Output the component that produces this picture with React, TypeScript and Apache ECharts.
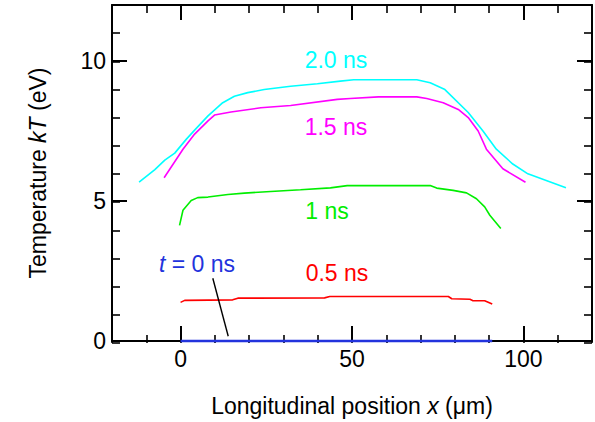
import React, { useEffect, useRef } from "react";
import * as echarts from "echarts";

// ---- data ----
const t20X = [-12.1, -7.5, -4.6, -1.7, 1.7, 4.1, 8.0, 12.3, 15.7, 19.6, 24.4, 32.1, 39.9, 46.6, 50.5, 68.9, 72.8, 77.1, 83.9, 88.2, 92.1, 96.9, 101.3, 112.4];
const t20Y = [5.67, 6.12, 6.46, 6.71, 7.21, 7.53, 8.04, 8.51, 8.74, 8.87, 8.98, 9.1, 9.19, 9.28, 9.33, 9.33, 9.22, 8.98, 8.16, 7.5, 6.85, 6.32, 5.97, 5.47];

const t15X = [-4.8, 0.7, 4.1, 8.0, 9.9, 14.7, 23.4, 32.1, 45.7, 49.5, 57.7, 68.9, 71.8, 76.6, 81.0, 83.9, 86.8, 89.2, 94.0, 100.6];
const t15Y = [5.83, 6.85, 7.39, 7.86, 8.07, 8.18, 8.33, 8.41, 8.63, 8.66, 8.72, 8.72, 8.66, 8.51, 8.27, 7.98, 7.5, 6.85, 6.15, 5.67];

const t10X = [-0.3, 0.7, 3.1, 5.0, 8.0, 13.8, 18.6, 26.3, 35.0, 43.7, 48.6, 72.8, 74.7, 79.5, 83.4, 86.3, 88.7, 90.2, 93.4];
const t10Y = [4.13, 4.67, 5.02, 5.12, 5.14, 5.23, 5.28, 5.34, 5.4, 5.47, 5.55, 5.55, 5.46, 5.38, 5.29, 5.08, 4.79, 4.49, 4.02];

const t05X = [0, 1.2, 15.2, 16.7, 42.0, 43.5, 78.1, 79.1, 84.4, 85.3, 88.7, 90.9];
const t05Y = [1.38, 1.45, 1.47, 1.53, 1.54, 1.59, 1.59, 1.51, 1.49, 1.44, 1.44, 1.32];

const t00X = [0, 90.9];
const t00Y = [0, 0];

const leaderX = [9.4, 13.9];
const leaderY = [2.24, 0.17];

const xMajorTicks = [0, 50, 100];
const yMajorTicks = [0, 5, 10];

const xTitle = "Longitudinal position {i|x} (\u03bcm)";
const yTitle = "Temperature {i|kT} (eV)";

const FONT = "'Liberation Sans', Arial, Helvetica, sans-serif";
const FS = 23;

const zip = (xs: number[], ys: number[]) => xs.map((x, i) => [x, ys[i]]);

export default function App() {
  const ref = useRef<HTMLDivElement>(null);
  useEffect(() => {
    if (!ref.current) return;
    const chart = echarts.init(ref.current, undefined, { renderer: "svg" });
    const gridBox = { left: 112, top: 5, width: 480, height: 338 };
    const axisLine = { show: true, onZero: false, lineStyle: { color: "#000", width: 2 } };
    const noLine = { show: false, onZero: false };
    const rich = { i: { fontStyle: "italic", fontSize: FS, fontFamily: FONT, color: "#000" } };
    const majorTick = (vals: number[]) => ({ show: true, inside: true, length: 15, customValues: vals, lineStyle: { color: "#000", width: 2 } });
    const minorTick = { show: true, inside: true, length: 8, lineStyle: { color: "#000", width: 1.6 } };

    const line = (xs: number[], ys: number[], color: string, width = 1.6) => ({
      type: "line",
      data: zip(xs, ys),
      xAxisIndex: 0,
      yAxisIndex: 0,
      showSymbol: false,
      symbol: "none",
      clip: false,
      lineStyle: { color, width },
      z: 5,
    });

    chart.setOption({
      animation: false,
      backgroundColor: "#fff",
      grid: [{ ...gridBox }, { ...gridBox }],
      xAxis: [
        {
          type: "value", gridIndex: 0, position: "bottom", min: -20, max: 120,
          axisLine,
          axisTick: majorTick(xMajorTicks),
          axisLabel: { customValues: xMajorTicks, margin: 6, fontSize: FS, fontFamily: FONT, color: "#000" },
          splitLine: { show: false },
          name: xTitle, nameLocation: "middle", nameGap: 53,
          nameTextStyle: { fontSize: FS, fontFamily: FONT, color: "#000", rich },
        },
        {
          type: "value", gridIndex: 0, position: "top", min: -20, max: 120,
          axisLine,
          axisTick: majorTick(xMajorTicks),
          axisLabel: { show: false },
          splitLine: { show: false },
        },
        {
          type: "value", gridIndex: 1, position: "bottom", min: -20, max: 120, interval: 10,
          axisLine: noLine, axisTick: minorTick, axisLabel: { show: false }, splitLine: { show: false },
        },
        {
          type: "value", gridIndex: 1, position: "top", min: -20, max: 120, interval: 10,
          axisLine: noLine, axisTick: minorTick, axisLabel: { show: false }, splitLine: { show: false },
        },
      ],
      yAxis: [
        {
          type: "value", gridIndex: 0, position: "left", min: 0, max: 12,
          axisLine,
          axisTick: majorTick(yMajorTicks),
          axisLabel: { customValues: yMajorTicks, margin: 6, fontSize: FS, fontFamily: FONT, color: "#000" },
          splitLine: { show: false },
          name: yTitle, nameLocation: "middle", nameGap: 63, nameRotate: 90,
          nameTextStyle: { fontSize: FS, fontFamily: FONT, color: "#000", rich },
        },
        {
          type: "value", gridIndex: 0, position: "right", min: 0, max: 12,
          axisLine,
          axisTick: majorTick(yMajorTicks),
          axisLabel: { show: false },
          splitLine: { show: false },
        },
        {
          type: "value", gridIndex: 1, position: "left", min: 0, max: 12, interval: 1,
          axisLine: noLine, axisTick: minorTick, axisLabel: { show: false }, splitLine: { show: false },
        },
        {
          type: "value", gridIndex: 1, position: "right", min: 0, max: 12, interval: 1,
          axisLine: noLine, axisTick: minorTick, axisLabel: { show: false }, splitLine: { show: false },
        },
      ],
      series: [
        line(t05X, t05Y, "#ff0000"),
        line(t10X, t10Y, "#00ee00"),
        line(t15X, t15Y, "#ff00ff"),
        line(t20X, t20Y, "#00ffff"),
        line(leaderX, leaderY, "#000000", 1.4),
        line(t00X, t00Y, "#2233dd", 2.4),
      ],
      graphic: [
        { type: "text", x: 336, y: 60, style: { text: "2.0 ns", fill: "#00ffff", font: `${FS}px ${FONT}`, align: "center", verticalAlign: "middle" } },
        { type: "text", x: 336, y: 127, style: { text: "1.5 ns", fill: "#ff00ff", font: `${FS}px ${FONT}`, align: "center", verticalAlign: "middle" } },
        { type: "text", x: 327, y: 211, style: { text: "1 ns", fill: "#00ee00", font: `${FS}px ${FONT}`, align: "center", verticalAlign: "middle" } },
        { type: "text", x: 337, y: 273, style: { text: "0.5 ns", fill: "#ff0000", font: `${FS}px ${FONT}`, align: "center", verticalAlign: "middle" } },
        {
          type: "text", x: 197, y: 264,
          style: {
            text: "{i|t} = 0 ns", fill: "#2233dd", font: `${FS}px ${FONT}`, align: "center", verticalAlign: "middle",
            rich: { i: { fontStyle: "italic", fontSize: FS, fontFamily: FONT, fill: "#2233dd" } },
          },
        },
      ],
    });
    return () => chart.dispose();
  }, []);
  return <div ref={ref} style={{ position: "fixed", left: 0, top: 0, width: 595, height: 422 }} />;
}
